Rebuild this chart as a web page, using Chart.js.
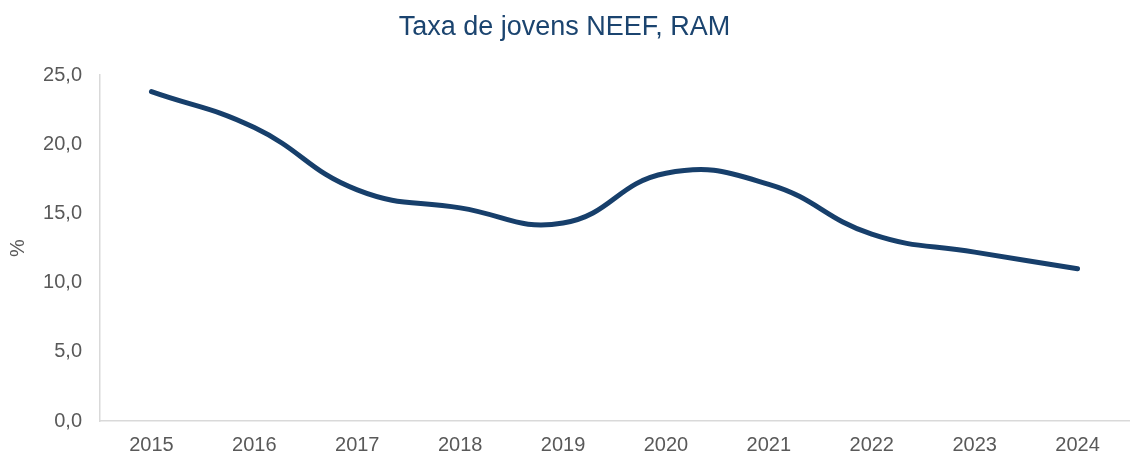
<!DOCTYPE html>
<html>
<head>
<meta charset="utf-8">
<script src="https://cdn.jsdelivr.net/npm/chart.js@4.4.0/dist/chart.umd.min.js"></script>
<style>
  html, body { margin: 0; padding: 0; background: #ffffff; }
  #wrap { width: 1135px; height: 454px; }
</style>
</head>
<body>
<div id="wrap"><canvas id="c" width="1135" height="454"></canvas></div>
<script>
const years = ['2015','2016','2017','2018','2019','2020','2021','2022','2023','2024'];
const neefRate = [23.8, 21.2, 16.7, 15.4, 14.3, 17.9, 17.1, 13.5, 12.2, 11.0];
const titleText = 'Taxa de jovens NEEF, RAM';
const yAxisLabel = '%';

const fontFamily = '"Liberation Sans", Arial, sans-serif';

new Chart(document.getElementById('c'), {
  type: 'line',
  data: {
    labels: years,
    datasets: [{
      data: neefRate,
      borderColor: '#173F6B',
      borderWidth: 5,
      borderCapStyle: 'round',
      borderJoinStyle: 'round',
      pointRadius: 0,
      pointHoverRadius: 0,
      tension: 0.45,
      fill: false
    }]
  },
  options: {
    responsive: false,
    animation: false,
    layout: { padding: { left: 0, right: 6, top: 0, bottom: 0 } },
    plugins: {
      legend: { display: false },
      tooltip: { enabled: false },
      title: {
        display: true,
        text: titleText,
        color: '#1B446F',
        font: { family: fontFamily, size: 27, weight: 'normal' },
        padding: { top: 11, bottom: 31.6 }
      }
    },
    scales: {
      x: {
        offset: true,
        grid: { display: false, drawTicks: false },
        border: { display: true, color: '#D9D9D9', width: 1.5 },
        ticks: {
          color: '#595959',
          font: { family: fontFamily, size: 20 },
          padding: 12,
          maxRotation: 0
        },
        afterFit: (s) => { s.height = 33; }
      },
      y: {
        min: 0,
        max: 25,
        grid: { display: false, drawTicks: false },
        border: { display: true, color: '#D9D9D9', width: 1.5 },
        ticks: {
          stepSize: 5,
          color: '#595959',
          font: { family: fontFamily, size: 20 },
          padding: 18,
          callback: (v) => v.toFixed(1).replace('.', ',')
        },
        title: {
          display: true,
          text: yAxisLabel,
          color: '#595959',
          font: { family: fontFamily, size: 20 },
          padding: { top: 6, bottom: 0 }
        },
        afterFit: (s) => { s.width = 100; }
      }
    }
  }
});
</script>
</body>
</html>
